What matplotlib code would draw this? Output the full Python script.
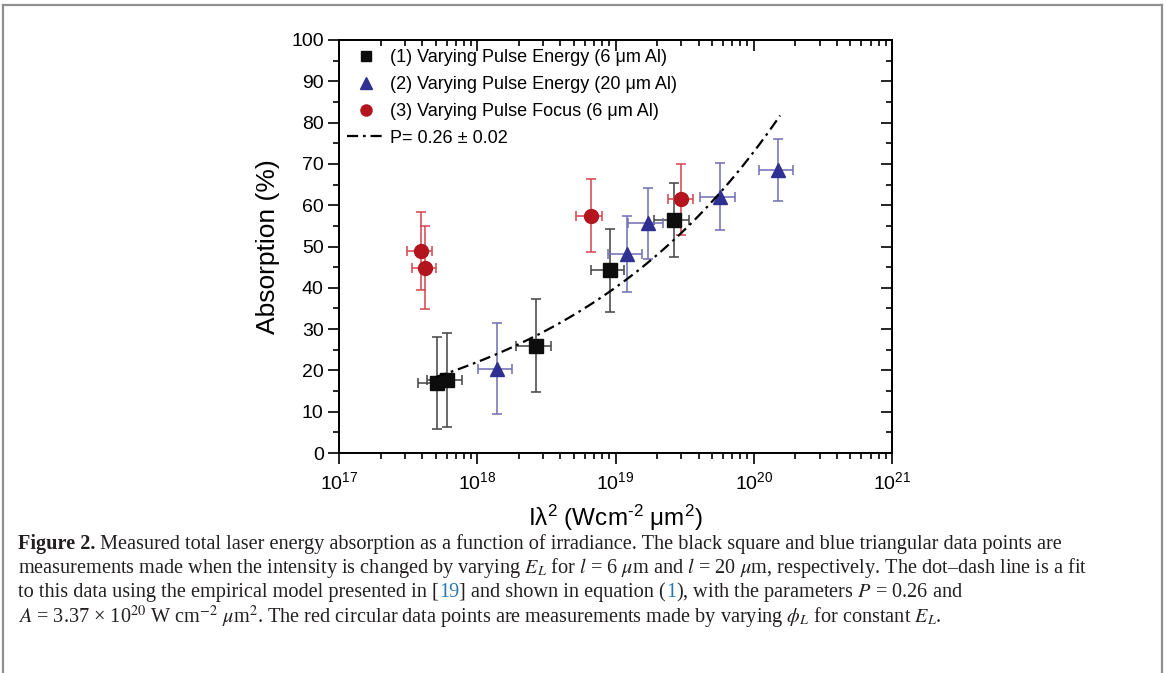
import numpy as np
import matplotlib
matplotlib.use("Agg")
import matplotlib.pyplot as plt
from matplotlib.ticker import MultipleLocator, LogLocator, NullFormatter
from matplotlib.lines import Line2D

plt.rcParams.update({
    "font.family": ["Liberation Sans", "DejaVu Sans"],
    "mathtext.fontset": "custom",
    "mathtext.rm": "Liberation Sans",
    "mathtext.it": "Liberation Sans:italic",
    "mathtext.bf": "Liberation Sans:bold",
    "axes.linewidth": 1.2,
})

# (1) varying pulse energy, 6 um Al
sq_x = [5.1e17, 6.05e17, 2.67e18, 9.1e18, 2.64e19]
sq_y = [17.0, 17.6, 26.0, 44.2, 56.4]
sq_xerr = [1.4e17, 1.7e17, 7.5e17, 2.5e18, 7.4e18]
sq_yerr = [11.1, 11.4, 11.2, 10.0, 8.9]

# (2) varying pulse energy, 20 um Al
tri_x = [1.40e18, 1.22e19, 1.71e19, 5.68e19, 1.51e20]
tri_y = [20.4, 48.1, 55.6, 62.1, 68.5]
tri_xerr = [3.9e17, 3.4e18, 4.8e18, 1.6e19, 4.2e19]
tri_yerr = [11.0, 9.2, 8.6, 8.0, 7.6]

# (3) varying pulse focus, 6 um Al
circ_x = [3.9e17, 4.2e17, 6.6e18, 3.0e19]
circ_y = [48.9, 44.9, 57.5, 61.4]
circ_xerr = [0.8e17, 0.85e17, 1.4e18, 6.2e18]
circ_yerr = [9.5, 10.0, 8.9, 8.6]

# empirical fit, eta = (I lambda^2 / A)^P
fit_P = 0.26
fit_A = 3.37e20
fit_range = (5.0e17, 1.55e20)

labels = ["(1) Varying Pulse Energy (6 μm Al)",
          "(2) Varying Pulse Energy (20 μm Al)",
          "(3) Varying Pulse Focus (6 μm Al)",
          "P= 0.26 ± 0.02"]

W, H = 1166, 673
fig = plt.figure(figsize=(W / 100, H / 100), dpi=100)
ax = fig.add_axes([339 / W, 1 - 453 / H, (892 - 339) / W, (453 - 40) / H])

series = [
    (sq_x, sq_y, sq_xerr, sq_yerr, "s", "#0d0d0d", "#484848", 9.5),
    (tri_x, tri_y, tri_xerr, tri_yerr, "^", "#2e3092", "#7373b4", 10.5),
    (circ_x, circ_y, circ_xerr, circ_yerr, "o", "#b3141d", "#d64852", 10),
]
handles = []
for (x, y, xe, ye, m, mc, ec, ms), lab in zip(series, labels):
    ax.errorbar(x, y, xerr=xe, yerr=ye, fmt="none", ecolor=ec,
                elinewidth=1.15, capsize=3.4, capthick=1.15, zorder=2)
    h, = ax.plot(x, y, ls="none", marker=m, ms=ms, color=mc, mec=mc, zorder=3, label=lab)
    handles.append(h)

xf = np.logspace(np.log10(fit_range[0]), np.log10(fit_range[1]), 200)
fit_line, = ax.plot(xf, 100 * (xf / fit_A) ** fit_P, color="black", lw=1.6,
                    ls=(0, (5, 2.2, 1.2, 2.2)), zorder=4, label=labels[3])
handles.append(fit_line)

ax.set_xscale("log")
ax.set_xlim(1e17, 1e21)
ax.set_ylim(0, 100)
ax.set_yticks(np.arange(0, 101, 10))
ax.yaxis.set_minor_locator(MultipleLocator(5))
ax.xaxis.set_major_locator(LogLocator(base=10, numticks=10))
ax.xaxis.set_minor_locator(LogLocator(base=10, subs=np.arange(2, 10), numticks=20))
ax.xaxis.set_minor_formatter(NullFormatter())
ax.tick_params(which="major", direction="out", length=8, width=1.2, labelsize=14, pad=3)
ax.tick_params(which="minor", direction="out", length=4.5, width=1.2)
ax.tick_params(axis="x", pad=5)

axt = ax.twiny()
axt.set_xscale("log")
axt.set_xlim(1e17, 1e21)
axt.xaxis.set_major_locator(LogLocator(base=10, numticks=10))
axt.xaxis.set_minor_locator(LogLocator(base=10, subs=np.arange(2, 10), numticks=20))
axt.tick_params(which="major", direction="in", length=8, width=1.2, labeltop=False)
axt.tick_params(which="minor", direction="in", length=4.5, width=1.2)

axr = ax.twinx()
axr.set_ylim(0, 100)
axr.set_yticks(np.arange(0, 101, 10))
axr.yaxis.set_minor_locator(MultipleLocator(5))
axr.tick_params(which="major", direction="in", length=8, width=1.2, labelright=False)
axr.tick_params(which="minor", direction="in", length=4.5, width=1.2)

ax.set_xlabel("Iλ$^2$ (Wcm$^{\\text{-}2}$ μm$^2$)", fontsize=17.5, labelpad=7)
ax.set_ylabel("Absorption (%)", fontsize=19, labelpad=8)

ax.legend(handles=handles, loc="upper left", bbox_to_anchor=(8 / 553, 1 - 9 / 413),
          frameon=False, fontsize=13, borderpad=0, borderaxespad=0,
          handlelength=2.1, handletextpad=0.3, labelspacing=0.55, markerscale=0.8)

# caption frame
for xs, ys in [((3, 3), (673, 5)), ((3, 1162), (5, 5)), ((1162, 1162), (5, 673))]:
    fig.add_artist(Line2D([x / W for x in xs], [1 - y / H for y in ys],
                          color="#8f8f8f", lw=1.6))

# caption
cap_size = 14.6
blue = "#2a79b3"
k = "#231f20"
cap_lines = [
    (549, [("Figure 2.", k, "bold"),
           (" Measured total laser energy absorption as a function of irradiance. "
            "The black square and blue triangular data points are", k, "normal")]),
    (573, [("measurements made when the intensity is changed by varying $E_L$ for $l$ = 6 "
            "$\\mu$m and $l$ = 20 $\\mu$m, respectively. The dot–dash line is a fit", k, "normal")]),
    (597, [("to this data using the empirical model presented in [", k, "normal"),
           ("19", blue, "normal"),
           ("] and shown in equation (", k, "normal"),
           ("1", blue, "normal"),
           ("), with the parameters $P$ = 0.26 and", k, "normal")]),
    (623, [("$A$ = 3.37 × 10$^{20}$ W cm$^{-2}$ $\\mu$m$^2$. The red circular data points "
            "are measurements made by varying $\\phi_L$ for constant $E_L$.", k, "normal")]),
]
renderer = fig.canvas.get_renderer()
for yb, segs in cap_lines:
    xp = 18
    for s, c, w in segs:
        t = fig.text(xp / W, 1 - yb / H, s, color=c, fontweight=w, fontsize=cap_size,
                     family="Liberation Serif", math_fontfamily="stix",
                     ha="left", va="baseline")
        xp += t.get_window_extent(renderer).width

fig.savefig("out.png", dpi=100)
